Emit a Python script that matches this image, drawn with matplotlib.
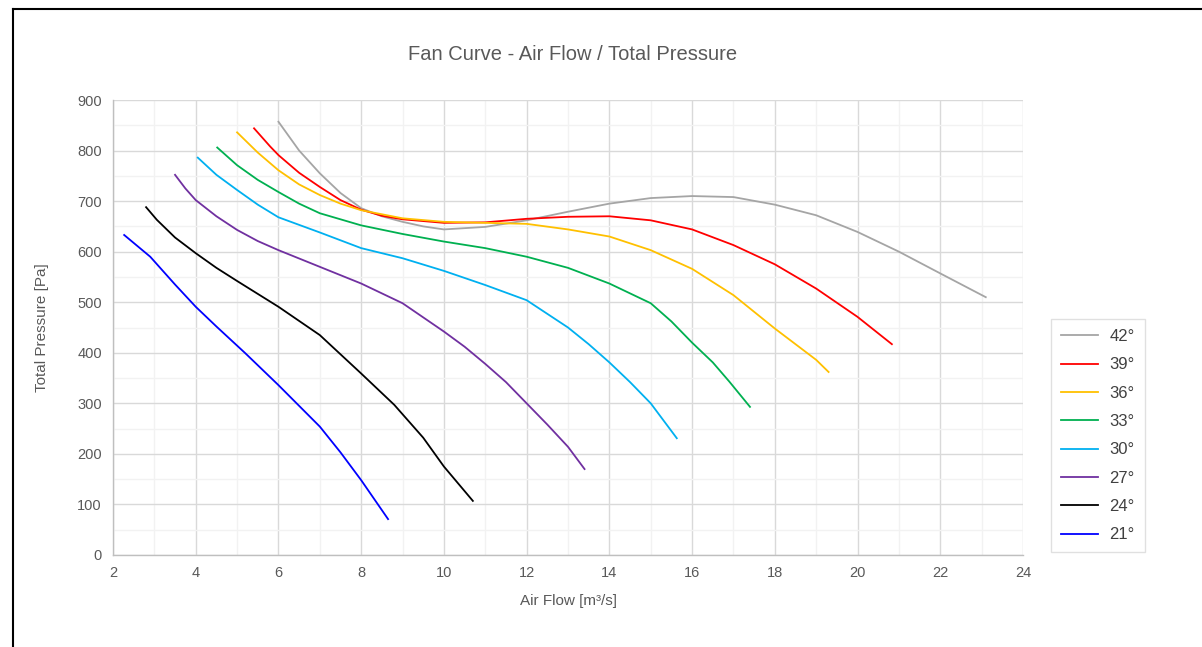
import matplotlib
matplotlib.use("Agg")
import matplotlib.pyplot as plt
from matplotlib.lines import Line2D
from matplotlib.ticker import MultipleLocator

plt.rcParams['font.family'] = ['Liberation Sans', 'DejaVu Sans']

# fan curves, one pair of lists per blade angle
x_42 = [6.0, 6.5, 7.0, 7.5, 8.0, 8.5, 9.0, 9.5, 10.0, 11.0, 12.0, 13.0, 14.0, 15.0, 16.0, 17.0, 18.0, 19.0, 20.0, 21.0, 22.0, 23.1]
y_42 = [857, 800, 755, 716, 686, 670, 659, 650, 644, 649, 662, 679, 695, 706, 710, 708, 693, 672, 639, 600, 557, 510]

x_39 = [5.41, 5.8, 6.0, 6.5, 7.0, 7.5, 8.0, 8.5, 9.0, 10.0, 11.0, 12.0, 13.0, 14.0, 15.0, 16.0, 17.0, 18.0, 19.0, 20.0, 20.83]
y_39 = [844, 808, 791, 756, 728, 702, 683, 671, 664, 657, 658, 665, 669, 670, 662, 644, 613, 575, 527, 471, 417]

x_36 = [5.0, 5.5, 6.0, 6.5, 7.0, 7.5, 8.0, 9.0, 10.0, 11.0, 12.0, 13.0, 14.0, 15.0, 16.0, 17.0, 18.0, 19.0, 19.3]
y_36 = [836, 796, 761, 733, 712, 695, 682, 666, 659, 657, 655, 644, 630, 603, 566, 514, 448, 386, 362]

x_33 = [4.52, 5.0, 5.5, 6.0, 6.5, 7.0, 8.0, 9.0, 10.0, 11.0, 12.0, 13.0, 14.0, 15.0, 15.5, 16.0, 16.5, 16.9, 17.4]
y_33 = [806, 771, 742, 718, 695, 676, 652, 635, 620, 607, 590, 568, 537, 498, 462, 420, 381, 343, 293]

x_30 = [4.05, 4.5, 5.0, 5.5, 6.0, 7.0, 8.0, 9.0, 10.0, 11.0, 12.0, 13.0, 13.5, 14.0, 14.5, 15.0, 15.63]
y_30 = [786, 752, 722, 693, 668, 638, 607, 587, 562, 534, 504, 450, 417, 381, 342, 300, 231]

x_27 = [3.5, 3.75, 4.0, 4.5, 5.0, 5.5, 6.0, 7.0, 8.0, 9.0, 10.0, 10.5, 11.0, 11.5, 12.0, 12.5, 13.0, 13.4]
y_27 = [752, 725, 702, 670, 643, 621, 603, 570, 537, 498, 442, 412, 378, 342, 300, 258, 214, 170]

x_24 = [2.8, 3.06, 3.5, 4.0, 4.5, 5.0, 6.0, 7.0, 8.0, 8.8, 9.5, 10.0, 10.7]
y_24 = [688, 663, 628, 597, 568, 542, 491, 435, 359, 297, 232, 175, 107]

x_21 = [2.27, 2.9, 3.5, 4.0, 4.5, 5.2, 6.0, 7.0, 7.5, 8.0, 8.65]
y_21 = [633, 590, 535, 491, 452, 399, 336, 254, 203, 148, 71]

labels = ['42°', '39°', '36°', '33°', '30°', '27°', '24°', '21°']
colors = ['#A5A5A5', '#FF0000', '#FFC000', '#00B050', '#00B0F0', '#7030A0', '#000000', '#0000FF']
xs = [x_42, x_39, x_36, x_33, x_30, x_27, x_24, x_21]
ys = [y_42, y_39, y_36, y_33, y_30, y_27, y_24, y_21]

fig = plt.figure(figsize=(12.02, 6.47), dpi=100)
ax = fig.add_axes([113/1202, 1-555/647, 910/1202, 455/647])

for x, y, lab, c in zip(xs, ys, labels, colors):
    ax.plot(x, y, color=c, lw=1.3, label=lab, solid_joinstyle='round')

ax.set_xlim(2, 24)
ax.set_ylim(0, 900)
ax.xaxis.set_major_locator(MultipleLocator(2))
ax.xaxis.set_minor_locator(MultipleLocator(1))
ax.yaxis.set_major_locator(MultipleLocator(100))
ax.yaxis.set_minor_locator(MultipleLocator(50))
ax.grid(which='major', color='#D9D9D9', lw=1.0)
ax.grid(which='minor', color='#F2F2F2', lw=1.0)
ax.set_axisbelow(True)
for s in ['top', 'right']:
    ax.spines[s].set_visible(False)
for s in ['left', 'bottom']:
    ax.spines[s].set_color('#BFBFBF')
    ax.spines[s].set_linewidth(1.0)
ax.tick_params(which='both', length=0, labelsize=10.5, labelcolor='#595959', pad=8)

ax.set_xlabel('Air Flow [m³/s]', fontsize=11, color='#595959', labelpad=10)
ax.set_ylabel('Total Pressure [Pa]', fontsize=11, color='#595959', labelpad=20)
fig.text(573/1202, 1-54/647, 'Fan Curve - Air Flow / Total Pressure', ha='center', va='center',
         fontsize=14.5, color='#595959')

leg = fig.legend(loc='upper left', bbox_to_anchor=(1051/1202, 1-319/647), fontsize=12,
                 frameon=True, fancybox=False, handlelength=2.2, handletextpad=0.7,
                 labelspacing=0.8, borderpad=0.6, borderaxespad=0)
leg.get_frame().set_edgecolor('#D9D9D9')
leg.get_frame().set_linewidth(1.0)
for t in leg.get_texts():
    t.set_color('#404040')

# outer chart frame (only left and top edges visible in this crop)
fig.add_artist(Line2D([12.5/1202, 12.5/1202], [0, 1-9/647], color='black', lw=1.5, transform=fig.transFigure))
fig.add_artist(Line2D([12.5/1202, 1], [1-9/647, 1-9/647], color='black', lw=1.5, transform=fig.transFigure))

fig.savefig('out.png', dpi=100)
